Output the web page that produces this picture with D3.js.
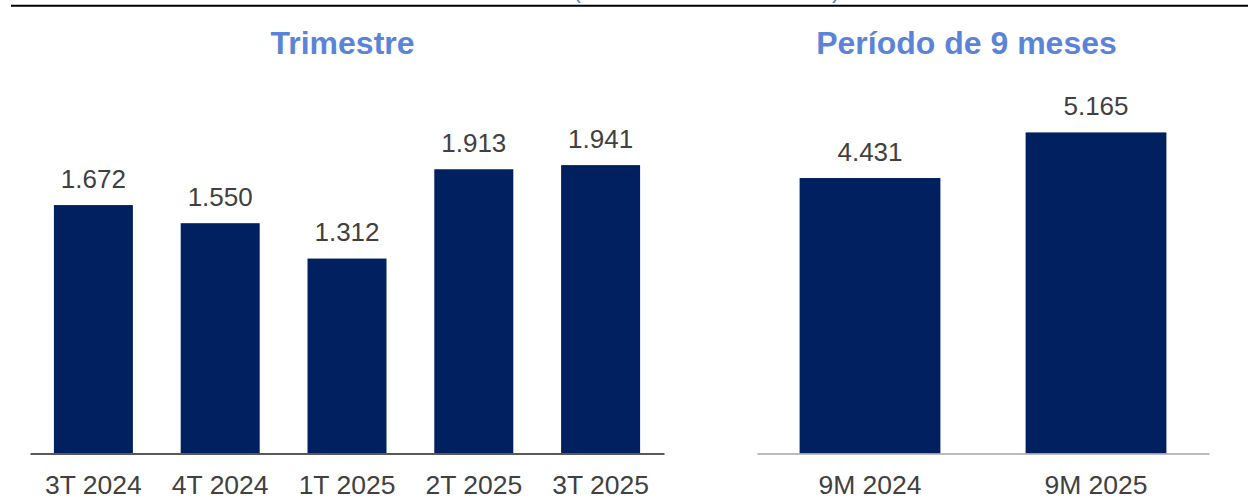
<!DOCTYPE html>
<html><head><meta charset="utf-8">
<script src="https://cdn.jsdelivr.net/npm/d3@7"></script>
<style>body{margin:0;background:#fff}svg{display:block}</style>
</head><body>
<svg id="c" width="1248" height="499"></svg>
<script>
const quarterCategories = ["3T 2024", "4T 2024", "1T 2025", "2T 2025", "3T 2025"];
const quarterValues = [1672, 1550, 1312, 1913, 1941];
const ninemCategories = ["9M 2024", "9M 2025"];
const ninemValues = [4431, 5165];
const titles = ["Trimestre", "Período de 9 meses"];
const subtitle = "(en millones de euros)";

const fmt = v => d3.format(",")(v).replace(/,/g, ".");
const svg = d3.select("#c");
const font = "'Liberation Sans', Arial, sans-serif";
const barColor = "#00205F";
const textColor = "#404040";
const titleColor = "#5B84D8";

// header line and cut subtitle
svg.append("line").attr("x1", 11).attr("x2", 1248).attr("y1", 5.7).attr("y2", 5.7)
  .attr("stroke", "#000").attr("stroke-width", 2);
svg.append("text").attr("x", 573).attr("y", -2.5).attr("textLength", 267)
  .attr("font-family", font).attr("font-size", 24).attr("fill", titleColor).text(subtitle);

function panel(cats, vals, x0, x1, yMax, yTop, axisColor, axisWidth, title, titleX) {
  const x = d3.scaleBand().domain(cats).range([x0, x1]).paddingInner(0.377).paddingOuter(0.1885);
  const y = d3.scaleLinear().domain([0, yMax]).range([453.5, yTop]);
  const g = svg.append("g");
  g.selectAll("rect").data(vals).join("rect")
    .attr("x", (d, i) => x(cats[i])).attr("width", x.bandwidth())
    .attr("y", d => y(d)).attr("height", d => y(0) - y(d))
    .attr("fill", barColor);
  g.selectAll("text.v").data(vals).join("text").attr("class", "v")
    .attr("x", (d, i) => x(cats[i]) + x.bandwidth() / 2)
    .attr("y", d => y(d) - 17.5)
    .attr("text-anchor", "middle").attr("font-family", font).attr("font-size", 26)
    .attr("fill", textColor).text(fmt);
  const ax = d3.axisBottom(x).tickSize(0).tickPadding(21.5);
  const axg = g.append("g").attr("transform", `translate(0,${y(0)})`).call(ax);
  axg.select(".domain").attr("stroke", axisColor).attr("stroke-width", axisWidth);
  axg.selectAll(".tick text").attr("font-family", font).attr("font-size", 26.5)
    .attr("fill", textColor).attr("dy", "0.71em");
  svg.append("text").attr("x", titleX).attr("y", 54).attr("text-anchor", "middle")
    .attr("font-family", font).attr("font-size", 32).attr("font-weight", "bold")
    .attr("fill", titleColor).text(title);
}

panel(quarterCategories, quarterValues, 30, 664, 2400, 453.5 - 356.6, "#595959", 2, titles[0], 342.5);
panel(ninemCategories, ninemValues, 757, 1209, 6000, 453.5 - 373, "#A6A6A6", 1.5, titles[1], 966.5);
</script>
</body></html>
